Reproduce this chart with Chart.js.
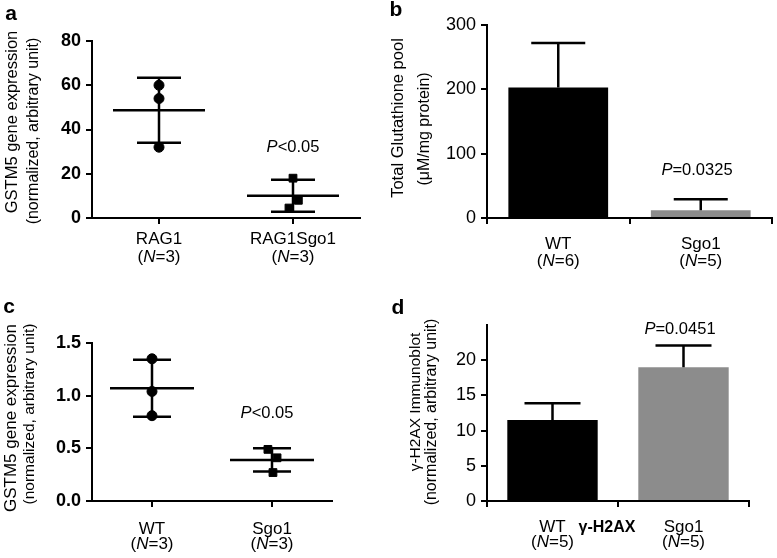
<!DOCTYPE html>
<html>
<head>
<meta charset="utf-8">
<script src="https://cdn.jsdelivr.net/npm/chart.js@4.4.0/dist/chart.umd.min.js"></script>
<style>
  body { margin: 0; background: #fff; width: 777px; height: 558px; position: relative; overflow: hidden; }
  canvas { position: absolute; }
</style>
</head>
<body>
<canvas id="chartA" width="390" height="280" style="left:0;top:0"></canvas>
<canvas id="chartB" width="387" height="280" style="left:390px;top:0"></canvas>
<canvas id="chartC" width="390" height="278" style="left:0;top:280px"></canvas>
<canvas id="chartD" width="387" height="278" style="left:390px;top:280px"></canvas>
<script>
// panel a - GSTM5, RAG1 vs RAG1Sgo1
const aGroups = ["RAG1", "RAG1Sgo1"];
const aN = [3, 3];
const aValues = [[60, 54, 32], [18, 8, 4.5]];
const aMean = [48.7, 10.1];
const aLow = [34, 2.8];
const aHigh = [63.4, 17.3];
const aTicks = [0, 20, 40, 60, 80];

// panel b - glutathione pool
const bGroups = ["WT", "Sgo1"];
const bN = [6, 5];
const bMean = [203, 12];
const bErr = [272, 29];
const bTicks = [0, 100, 200, 300];

// panel c - GSTM5, WT vs Sgo1
const cGroups = ["WT", "Sgo1"];
const cN = [3, 3];
const cValues = [[1.35, 1.04, 0.81], [0.49, 0.41, 0.27]];
const cMean = [1.07, 0.39];
const cLow = [0.80, 0.28];
const cHigh = [1.34, 0.50];
const cTicks = [0, 0.5, 1.0, 1.5];

// panel d - gamma-H2AX immunoblot
const dGroups = ["WT", "Sgo1"];
const dN = [5, 5];
const dMean = [11.5, 19.0];
const dErr = [13.9, 22.1];
const dTicks = [0, 5, 10, 15, 20];

const FONT = "'Liberation Sans', Arial, sans-serif";
const LBL = 17;   // category label size
const PSZ = 16.5; // p value size

function drawNLabel(ctx, x, y, n) {
    const pre = "(", mid = "N", post = "=" + n + ")";
    ctx.font = LBL + "px " + FONT;
    const w1 = ctx.measureText(pre).width, w3 = ctx.measureText(post).width;
    ctx.font = "italic " + LBL + "px " + FONT;
    const w2 = ctx.measureText(mid).width;
    let sx = x - (w1 + w2 + w3) / 2;
    ctx.textAlign = "left";
    ctx.font = LBL + "px " + FONT;
    ctx.fillText(pre, sx, y);
    ctx.font = "italic " + LBL + "px " + FONT;
    ctx.fillText(mid, sx + w1, y);
    ctx.font = LBL + "px " + FONT;
    ctx.fillText(post, sx + w1 + w2, y);
}

function drawPText(ctx, x, y, rest) {
    ctx.font = "italic " + PSZ + "px " + FONT;
    const w1 = ctx.measureText("P").width;
    ctx.font = PSZ + "px " + FONT;
    const w2 = ctx.measureText(rest).width;
    const sx = x - (w1 + w2) / 2;
    ctx.textAlign = "left";
    ctx.font = "italic " + PSZ + "px " + FONT;
    ctx.fillText("P", sx, y);
    ctx.font = PSZ + "px " + FONT;
    ctx.fillText(rest, sx + w1, y);
}

// draws letters, axis titles, category labels, p values, error bars
function decor(cfg) {
    return {
        id: "decor",
        afterDatasetsDraw(chart) {
            const ctx = chart.ctx;
            const xs = chart.scales.x, ys = chart.scales.y;
            ctx.save();
            ctx.strokeStyle = "#000";
            ctx.lineWidth = 2.5;
            ctx.lineCap = "butt";
            cfg.groups.forEach((g, i) => {
                const x = xs.getPixelForValue(i);
                if (cfg.mean && cfg.low) {
                    // scatter: mean line + sd bars
                    const yl = ys.getPixelForValue(cfg.low[i]);
                    const yh = ys.getPixelForValue(cfg.high[i]);
                    const ym = ys.getPixelForValue(cfg.mean[i]);
                    ctx.beginPath();
                    ctx.moveTo(x - cfg.meanHalf, ym); ctx.lineTo(x + cfg.meanHalf, ym);
                    ctx.moveTo(x, yl); ctx.lineTo(x, yh);
                    ctx.moveTo(x - cfg.capHalf, yl); ctx.lineTo(x + cfg.capHalf, yl);
                    ctx.moveTo(x - cfg.capHalf, yh); ctx.lineTo(x + cfg.capHalf, yh);
                    ctx.stroke();
                } else if (cfg.err) {
                    const yb = ys.getPixelForValue(cfg.bar[i]);
                    const ye = ys.getPixelForValue(cfg.err[i]);
                    ctx.beginPath();
                    ctx.moveTo(x, yb); ctx.lineTo(x, ye);
                    ctx.moveTo(x - cfg.capHalf, ye); ctx.lineTo(x + cfg.capHalf, ye);
                    ctx.stroke();
                }
            });
            ctx.restore();
        },
        afterDraw(chart) {
            const ctx = chart.ctx;
            const xs = chart.scales.x;
            const bottom = chart.chartArea.bottom;
            ctx.save();
            ctx.fillStyle = "#000";
            ctx.textBaseline = "middle";
            // panel letter
            ctx.textAlign = "center";
            ctx.font = "bold 21px " + FONT;
            ctx.fillText(cfg.letter, cfg.letterPos[0], cfg.letterPos[1]);
            // y titles
            cfg.titles.forEach(t => {
                ctx.save();
                ctx.translate(t.x, t.y);
                ctx.rotate(-Math.PI / 2);
                ctx.textAlign = "center";
                ctx.font = t.size + "px " + FONT;
                ctx.fillText(t.text, 0, 0);
                ctx.restore();
            });
            // category labels
            cfg.groups.forEach((g, i) => {
                const x = xs.getPixelForValue(i);
                ctx.textAlign = "center";
                ctx.font = LBL + "px " + FONT;
                ctx.fillText(g, x, bottom + cfg.labelDy[0]);
                drawNLabel(ctx, x, bottom + cfg.labelDy[1], cfg.n[i]);
            });
            drawPText(ctx, cfg.pPos[0], cfg.pPos[1], cfg.pText);
            if (cfg.extra) {
                ctx.textAlign = "center";
                ctx.font = "bold 16px " + FONT;
                ctx.fillText(cfg.extra.text, cfg.extra.x, cfg.extra.y);
            }
            ctx.restore();
        }
    };
}

function axes(box, yMin, yMax, ticks, bold, fmt, linearX) {
    const x = {
        grid: { drawOnChartArea: false, color: "#000", tickColor: "#000", tickLength: 6, lineWidth: 2 },
        border: { color: "#000", width: 2 },
        ticks: { display: false },
        afterFit: s => { s.height = box.h - box.bottom; }
    };
    if (linearX) {
        Object.assign(x, {
            type: "linear", min: -0.5, max: 1.5,
            afterBuildTicks: s => { s.ticks = [{ value: 0 }, { value: 1 }]; }
        });
    }
    return {
        x: x,
        y: {
            min: yMin, max: yMax,
            grid: { drawOnChartArea: false, color: "#000", tickColor: "#000", tickLength: 6, lineWidth: 2 },
            border: { color: "#000", width: 2 },
            ticks: {
                color: "#000", padding: 5,
                font: { family: FONT, size: 18, weight: bold ? "bold" : "normal" },
                callback: v => fmt ? v.toFixed(1) : v
            },
            afterBuildTicks: s => { s.ticks = ticks.map(v => ({ value: v })); },
            afterFit: s => { s.width = box.left; }
        }
    };
}

function baseOptions(box) {
    return {
        responsive: false,
        animation: false,
        layout: { padding: { top: box.top, right: box.w - box.right, left: 0, bottom: 0 } },
        plugins: { legend: { display: false }, tooltip: { enabled: false } }
    };
}

// panel a
const boxA = { w: 390, h: 280, left: 92, right: 360, top: 41, bottom: 218 };
const aJitter = [[0, 0, 0], [0, 0.04, -0.03]];
new Chart(document.getElementById("chartA"), {
    type: "scatter",
    data: {
        datasets: aValues.map((vals, i) => ({
            data: vals.map((v, k) => ({ x: i + aJitter[i][k], y: v })),
            pointStyle: i === 0 ? "circle" : "rect",
            pointRadius: i === 0 ? 5 : 5.5,
            backgroundColor: "#000", borderColor: "#000"
        }))
    },
    options: Object.assign(baseOptions(boxA), { scales: axes(boxA, 0, 80, aTicks, true, false, true) }),
    plugins: [decor({
        groups: aGroups, n: aN, mean: aMean, low: aLow, high: aHigh, meanHalf: 46, capHalf: 22,
        letter: "a", letterPos: [11, 14],
        titles: [{ text: "GSTM5 gene expression", x: 12, y: 122, size: 16.5 },
                 { text: "(normalized, arbitrary unit)", x: 34, y: 131, size: 16 }],
        labelDy: [21, 39], pPos: [293, 147], pText: "<0.05"
    })]
});

// panel b
const boxB = { w: 387, h: 280, left: 97, right: 382, top: 25, bottom: 218 };
new Chart(document.getElementById("chartB"), {
    type: "bar",
    data: {
        labels: bGroups,
        datasets: [{
            data: bMean,
            backgroundColor: ["#000", "#8c8c8c"],
            barPercentage: 0.7, categoryPercentage: 1
        }]
    },
    options: Object.assign(baseOptions(boxB), { scales: axes(boxB, 0, 300, bTicks, false, false, false) }),
    plugins: [decor({
        groups: bGroups, n: bN, bar: bMean, err: bErr, capHalf: 27,
        letter: "b", letterPos: [6, 10],
        titles: [{ text: "Total Glutathione pool", x: 8, y: 118, size: 16.5 },
                 { text: "(\u03bcM/mg protein)", x: 35, y: 129, size: 16 }],
        labelDy: [26, 43], pPos: [307, 170], pText: "=0.0325"
    })]
});

// panel c
const boxC = { w: 390, h: 278, left: 92, right: 332, top: 63, bottom: 221 };
const cJitter = [[0, 0, 0], [-0.034, 0.042, 0.008]];
new Chart(document.getElementById("chartC"), {
    type: "scatter",
    data: {
        datasets: cValues.map((vals, i) => ({
            data: vals.map((v, k) => ({ x: i + cJitter[i][k], y: v })),
            pointStyle: i === 0 ? "circle" : "rect",
            pointRadius: i === 0 ? 5 : 5.5,
            backgroundColor: "#000", borderColor: "#000"
        }))
    },
    options: Object.assign(baseOptions(boxC), { scales: axes(boxC, 0, 1.5, cTicks, true, true, true) }),
    plugins: [decor({
        groups: cGroups, n: cN, mean: cMean, low: cLow, high: cHigh, meanHalf: 42, capHalf: 19,
        letter: "c", letterPos: [9, 27],
        titles: [{ text: "GSTM5 gene expression", x: 11, y: 138, size: 17 },
                 { text: "(normalized, arbitrary unit)", x: 30, y: 134, size: 15.5 }],
        labelDy: [28, 43], pPos: [267, 133], pText: "<0.05"
    })]
});

// panel d
const boxD = { w: 387, h: 278, left: 97, right: 359, top: 45, bottom: 221 };
new Chart(document.getElementById("chartD"), {
    type: "bar",
    data: {
        labels: dGroups,
        datasets: [{
            data: dMean,
            backgroundColor: ["#000", "#8c8c8c"],
            barPercentage: 0.69, categoryPercentage: 1
        }]
    },
    options: Object.assign(baseOptions(boxD), { scales: axes(boxD, 0, 25, dTicks, false, false, false) }),
    plugins: [decor({
        groups: dGroups, n: dN, bar: dMean, err: dErr, capHalf: 28,
        letter: "d", letterPos: [8, 28],
        titles: [{ text: "\u03b3-H2AX Immunoblot", x: 26, y: 122, size: 15.5 },
                 { text: "(normalized, arbitrary unit)", x: 42, y: 132, size: 16 }],
        labelDy: [26, 41], pPos: [290, 49], pText: "=0.0451",
        extra: { text: "\u03b3-H2AX", x: 217, y: 248 }
    })]
});
</script>
</body>
</html>
